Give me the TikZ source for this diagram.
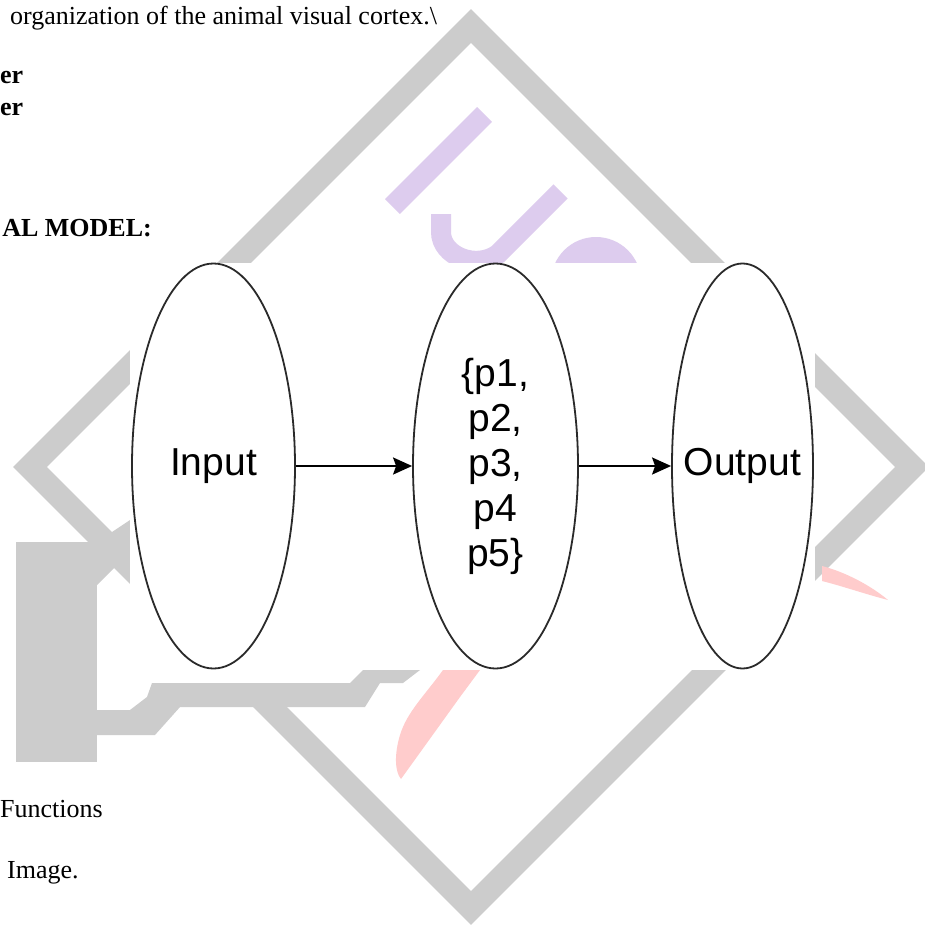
\documentclass[tikz,border=0pt]{standalone}
\usepackage{fontspec}
\setmainfont{Liberation Serif}
\newfontfamily\diafont{Liberation Sans}
\usetikzlibrary{shapes.geometric,arrows.meta}

\definecolor{wmgray}{HTML}{CCCCCC}
\definecolor{wmlilac}{HTML}{DDCCEE}
\definecolor{wmpink}{HTML}{FFCCCC}
\definecolor{edgegray}{HTML}{2A2A2A}

\begin{document}
\begin{tikzpicture}[
            x=1pt, y=-1pt,
            layer/.style = {draw=edgegray, line width=1.8pt, ellipse, inner sep=0pt, minimum height=405pt},
            lbl/.style = {font=\diafont\fontsize{39}{45}\selectfont, align=center, inner sep=0pt},
            flow/.style = {draw, line width=2.2pt, -{Stealth[length=19pt, width=17pt, inset=3pt]}},
            page/.style = {font=\fontsize{26}{30}\selectfont, inner sep=0pt},
            pagebf/.style = {font=\bfseries\fontsize{26}{30}\selectfont, inner sep=0pt}
        ]
        \useasboundingbox (0,0) rectangle (925,927);
        \fill[white] (0,0) rectangle (925,927);

        % watermark: diamond frame and the bits around it
        \draw[wmgray, line width=24pt, miter limit=4] (258,695) -- (471,908) -- (912,467) -- (471,26) -- (30,467) -- (200,637);
        \fill[wmgray] (16,542) rectangle (97,762);
        \fill[wmgray] (97,542) -- (97,585) -- (130,552) -- (130,520) -- cycle;
        \fill[wmgray] (97,710) -- (130,710) -- (147,697) -- (152,683) -- (350,683) -- (363,670)
            -- (420,670) -- (403,683) -- (380,683) -- (365,707) -- (180,707) -- (155,735) -- (97,735) -- cycle;
        \draw[wmlilac, line width=21pt] (484.5,114.5) -- (392.5,206.5);
        \draw[wmlilac, line width=20pt] (560.5,191.5) -- (498,254) .. controls (476,270) and (441,256) .. (441,232) -- (441,214);
        \fill[wmlilac] (596,282) circle (45);
        \fill[wmpink] (443,670) .. controls (425,695) and (407,712) .. (400,735)
            .. controls (394,755) and (395,772) .. (401,779) -- (460,697) -- (480,670) -- cycle;
        \fill[wmpink] (822,566) .. controls (845,572) and (870,585) .. (888,600)
            .. controls (865,594) and (842,586) .. (822,581) -- cycle;

        % the model
        \fill[white] (130,263) rectangle (815,670);
        \node[layer, minimum width=163pt] (inp) at (213.5,466) {};
        \node[layer, minimum width=165pt] (prm) at (495.5,466) {};
        \node[layer, minimum width=141pt] (outp) at (742.5,466) {};
        \node[lbl] (inptxt) at (inp.center) {Input};
        \node[lbl] (prmtxt) at (prm.center) {\{p1,\\ p2,\\ p3,\\ p4\\ p5\}};
        \node[lbl] (outtxt) at (outp.center) {Output};
        \draw[flow] (inp) -- (prm);
        \draw[flow] (prm) -- (outp);

        % surrounding page text
        \node[page, anchor=base west] (cortex) at (10,24) {organization of the animal visual cortex.\textbackslash};
        \node[pagebf, anchor=base west] (layera) at (0,83) {er};
        \node[pagebf, anchor=base west] (layerb) at (0,115) {er};
        \node[pagebf, anchor=base east] (model) at (152,236) {AL MODEL:};
        \node[page, anchor=base west] (funcs) at (0,817) {Functions};
        \node[page, anchor=base west] (image) at (7,878) {Image.};
\end{tikzpicture}
\end{document}
